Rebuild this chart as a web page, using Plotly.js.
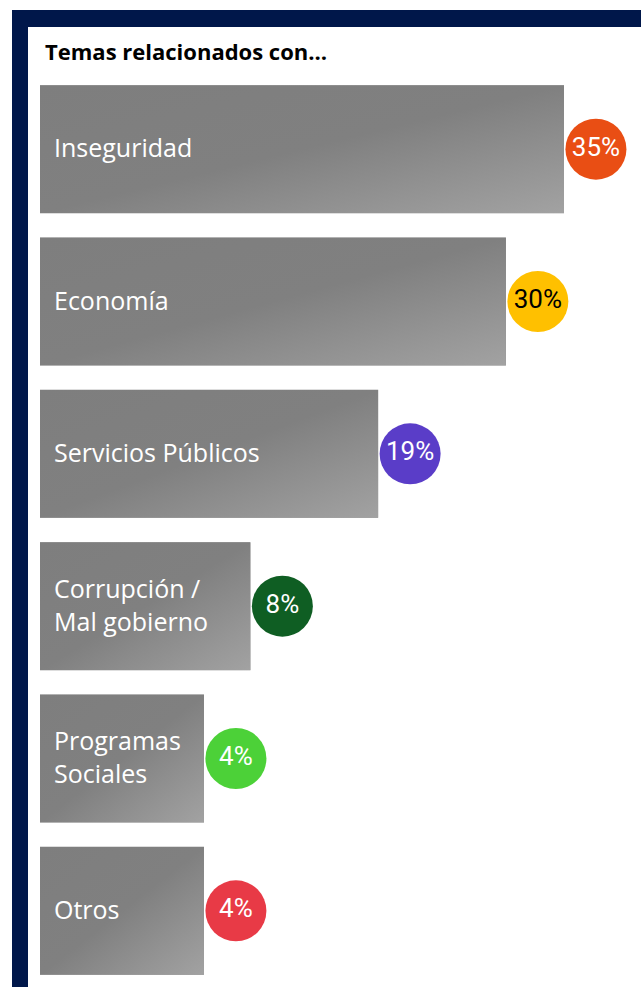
<!DOCTYPE html>
<html><head><meta charset="utf-8">
<script src="https://cdn.plot.ly/plotly-3.0.1.min.js"></script>
<style>
html,body{margin:0;padding:0;background:#fff;}
#frame{position:absolute;left:12px;top:10px;width:629px;height:977px;border-top:17px solid #00174a;border-left:16px solid #00174a;box-sizing:border-box;}
#chart{position:absolute;left:0;top:0;width:641px;height:987px;}
</style></head><body>
<div id="frame"></div><div id="chart"></div>
<script>
const categories = ["Inseguridad","Economía","Servicios Públicos","Corrupción /<br>Mal gobierno","Programas<br>Sociales","Otros"];
const values = [35,30,19,8,4,4];
const valueLabels = ["35%","30%","19%","8%","4%","4%"];
const badgeColors = ["#e94e14","#ffc000","#5a3dc8","#0f5e23","#4cd138","#e83a46"];
const badgeTextColors = ["#ffffff","#000000","#ffffff","#ffffff","#ffffff","#ffffff"];

const labelRoom = 10.12;   // axis units reserved left of zero for the labels
const badgeOffset = 2.75;  // badge centre distance past bar end (axis units)
const barGap = 0.16;

const gradSvg = "<svg xmlns='http://www.w3.org/2000/svg' width='100' height='100' viewBox='0 0 100 100' preserveAspectRatio='none'><defs><linearGradient id='g' x1='0' y1='0' x2='1' y2='1'><stop offset='0' stop-color='#7e7e7e'/><stop offset='0.5' stop-color='#808080'/><stop offset='1' stop-color='#a2a2a2'/></linearGradient></defs><rect width='100' height='100' fill='url(#g)'/></svg>";
const gradSrc = "data:image/svg+xml;charset=utf-8," + encodeURIComponent(gradSvg);

const bars = {
  type: 'bar', orientation: 'h',
  y: categories,
  x: values.map(v => v + labelRoom),
  base: values.map(() => -labelRoom),
  marker: {color: '#868686', line: {width: 0}},
  hoverinfo: 'skip', showlegend: false
};
const badges = {
  type: 'scatter', mode: 'markers+text',
  y: categories,
  x: values.map(v => v + badgeOffset),
  text: valueLabels,
  textposition: 'middle center',
  marker: {size: 61, color: badgeColors, line: {width: 0}, opacity: 1},
  textfont: {family: "Roboto, sans-serif", size: 26, color: badgeTextColors},
  hoverinfo: 'skip', showlegend: false, cliponaxis: false
};

const annotations = categories.map(c => ({
  x: -labelRoom, y: c, xref: 'x', yref: 'y',
  xanchor: 'left', yanchor: 'middle', xshift: 12, yshift: 2,
  text: c, showarrow: false, align: 'left',
  font: {family: "'Open Sans', sans-serif", size: 25, color: '#ffffff'}
}));
const images = categories.map((c, i) => ({
  source: gradSrc, xref: 'x', yref: 'y',
  x: -labelRoom, y: c, sizex: values[i] + labelRoom, sizey: 1 - barGap,
  xanchor: 'left', yanchor: 'middle', sizing: 'stretch', layer: 'above'
}));

const layout = {
  width: 641, height: 987,
  margin: {l: 40, r: 0, t: 73, b: 0},
  paper_bgcolor: 'rgba(0,0,0,0)', plot_bgcolor: 'rgba(0,0,0,0)',
  bargap: barGap,
  title: {
    text: '<b>Temas relacionados con…</b>',
    xref: 'container', yref: 'container',
    x: 45/641, xanchor: 'left', y: 1 - 52/987, yanchor: 'middle',
    font: {family: "'Open Sans', sans-serif", size: 22, color: '#000000'}
  },
  xaxis: {range: [-labelRoom, 41.63], visible: false, fixedrange: true},
  yaxis: {type: 'category', range: [categories.length - 0.5, -0.5], visible: false, fixedrange: true},
  annotations: annotations,
  images: images,
  showlegend: false
};
Plotly.newPlot('chart', [bars, badges], layout, {displayModeBar: false, staticPlot: true});
</script>
</body></html>
